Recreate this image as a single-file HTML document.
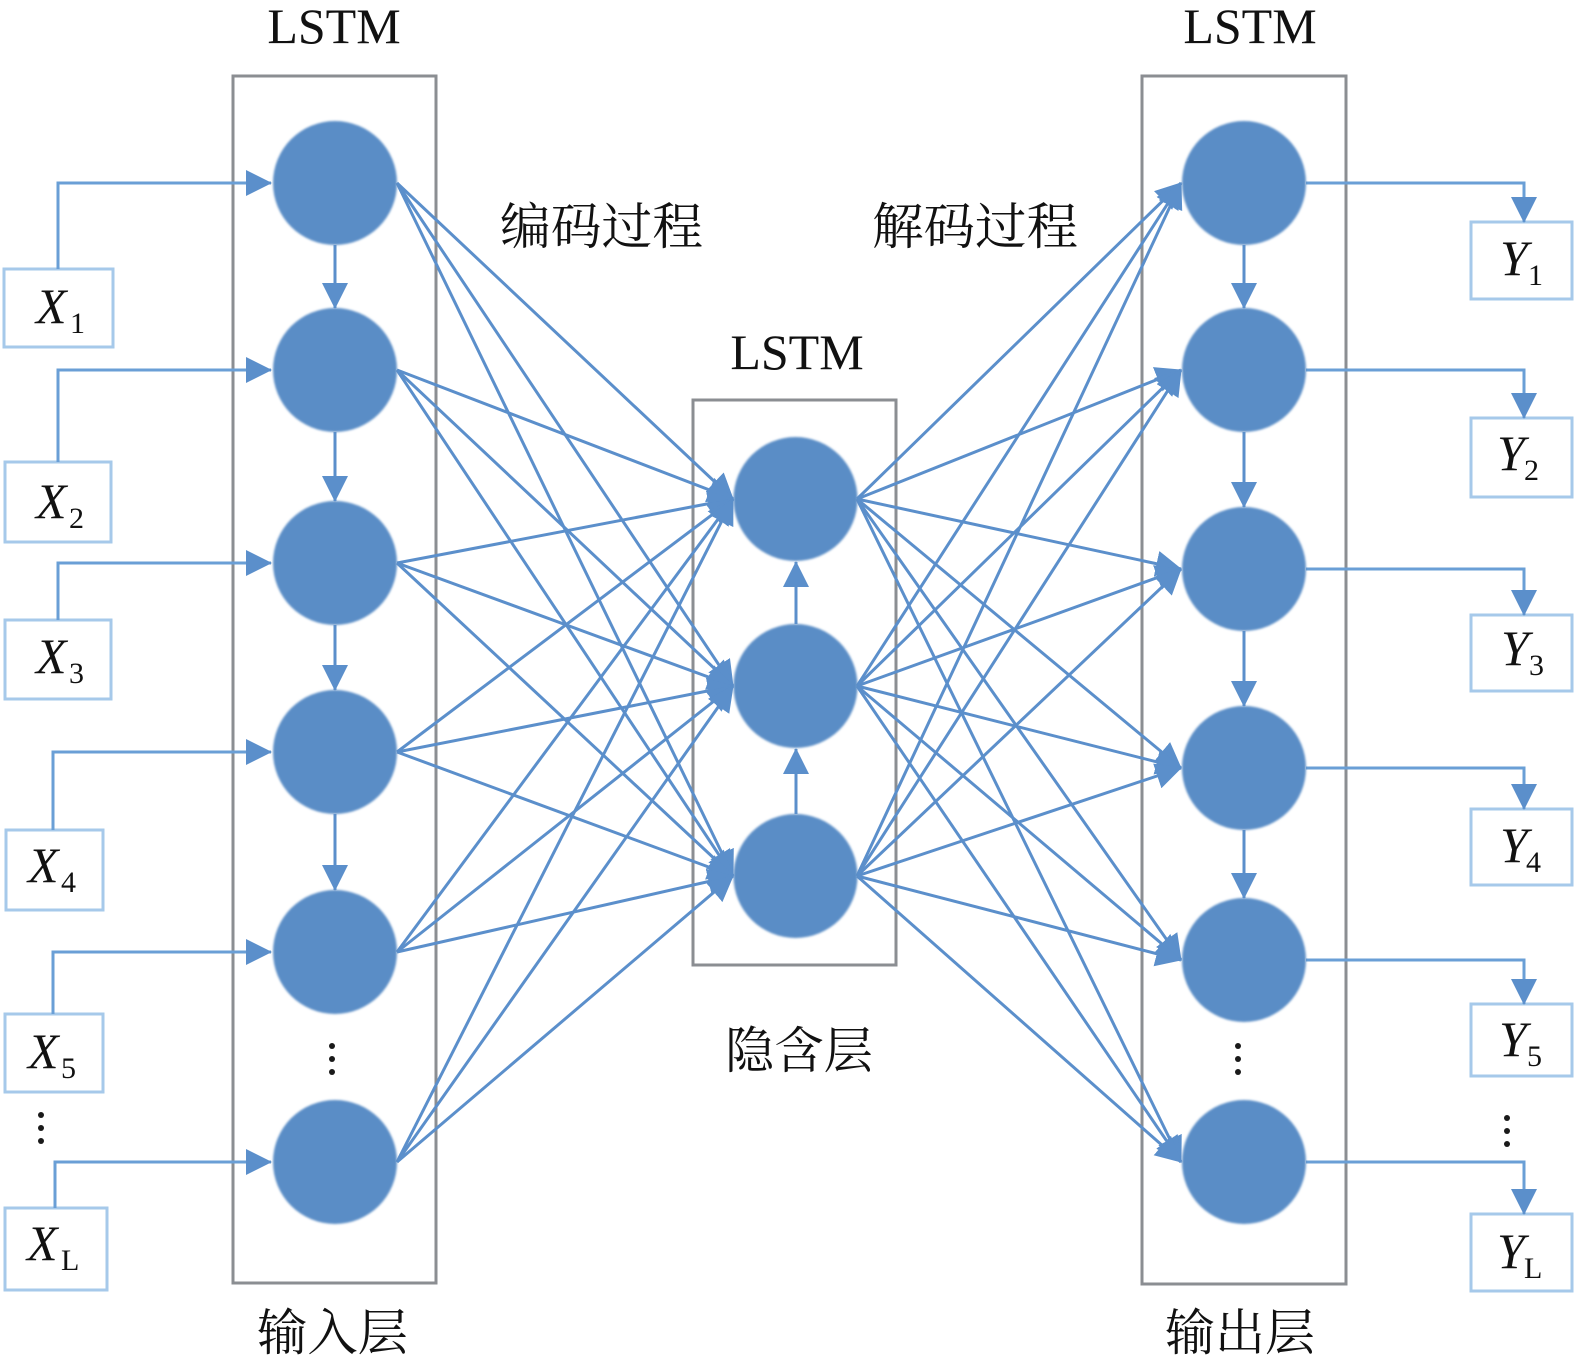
<!DOCTYPE html>
<html>
<head>
<meta charset="utf-8">
<style>
  html,body{margin:0;padding:0;background:#fff;}
  svg{display:block;}
  .lat{font-family:"Liberation Serif",serif;fill:#111;}
  .cjk{font-family:"Liberation Serif","Noto Serif CJK SC",serif;fill:#111;}
</style>
</head>
<body>
<svg width="1576" height="1366" viewBox="0 0 1576 1366" xmlns="http://www.w3.org/2000/svg">
  <defs>
    <marker id="ah" markerWidth="28" markerHeight="28" refX="25" refY="13" orient="auto" markerUnits="userSpaceOnUse">
      <path d="M0,0 L26,13 L0,26 z" fill="#5b8fcb"/>
    </marker>
    <filter id="soft" x="-10%" y="-10%" width="120%" height="120%">
      <feGaussianBlur stdDeviation="1"/>
    </filter>
  </defs>

  <!-- Titles -->
  <text class="lat" x="334" y="43" font-size="50" text-anchor="middle">LSTM</text>
  <text class="lat" x="1250" y="43" font-size="50" text-anchor="middle">LSTM</text>
  <text class="lat" x="797" y="369" font-size="50" text-anchor="middle">LSTM</text>

  <text class="cjk" x="500" y="244" font-size="50" textLength="203" lengthAdjust="spacingAndGlyphs">编码过程</text>
  <text class="cjk" x="872" y="244" font-size="50" textLength="206" lengthAdjust="spacingAndGlyphs">解码过程</text>
  <text class="cjk" x="725" y="1068" font-size="50" textLength="148" lengthAdjust="spacingAndGlyphs">隐含层</text>
  <text class="cjk" x="257" y="1350" font-size="50" textLength="151" lengthAdjust="spacingAndGlyphs">输入层</text>
  <text class="cjk" x="1165" y="1350" font-size="50" textLength="150" lengthAdjust="spacingAndGlyphs">输出层</text>

  <!-- Layer boxes -->
  <g fill="none" stroke="#8b8e92" stroke-width="3">
    <rect x="233" y="76" width="203" height="1207"/>
    <rect x="693" y="400" width="203" height="565"/>
    <rect x="1142" y="76" width="204" height="1208"/>
  </g>

  <!-- Input / output boxes -->
  <g fill="#fff" stroke="#a6c9ea" stroke-width="3">
    <rect x="4" y="269" width="109" height="78"/>
    <rect x="5" y="462" width="106" height="80"/>
    <rect x="5" y="620" width="106" height="79"/>
    <rect x="6" y="830" width="97" height="80"/>
    <rect x="5" y="1014" width="98" height="78"/>
    <rect x="5" y="1208" width="102" height="82"/>

    <rect x="1471" y="222" width="101" height="77"/>
    <rect x="1471" y="418" width="101" height="79"/>
    <rect x="1471" y="615" width="101" height="76"/>
    <rect x="1471" y="809" width="101" height="76"/>
    <rect x="1471" y="1004" width="101" height="72"/>
    <rect x="1471" y="1214" width="101" height="77"/>
  </g>

  <!-- Encoder connections -->
  <g stroke="#5b8fcb" stroke-width="3" marker-end="url(#ah)">
    <line x1="397" y1="183" x2="733" y2="499"/>
    <line x1="397" y1="183" x2="733" y2="686"/>
    <line x1="397" y1="183" x2="733" y2="876"/>
    <line x1="397" y1="370" x2="733" y2="499"/>
    <line x1="397" y1="370" x2="733" y2="686"/>
    <line x1="397" y1="370" x2="733" y2="876"/>
    <line x1="397" y1="563" x2="733" y2="499"/>
    <line x1="397" y1="563" x2="733" y2="686"/>
    <line x1="397" y1="563" x2="733" y2="876"/>
    <line x1="397" y1="752" x2="733" y2="499"/>
    <line x1="397" y1="752" x2="733" y2="686"/>
    <line x1="397" y1="752" x2="733" y2="876"/>
    <line x1="397" y1="952" x2="733" y2="499"/>
    <line x1="397" y1="952" x2="733" y2="686"/>
    <line x1="397" y1="952" x2="733" y2="876"/>
    <line x1="397" y1="1162" x2="733" y2="499"/>
    <line x1="397" y1="1162" x2="733" y2="686"/>
    <line x1="397" y1="1162" x2="733" y2="876"/>
  </g>

  <!-- Decoder connections -->
  <g stroke="#5b8fcb" stroke-width="3" marker-end="url(#ah)">
    <line x1="857" y1="499" x2="1181" y2="183"/>
    <line x1="857" y1="499" x2="1181" y2="370"/>
    <line x1="857" y1="499" x2="1181" y2="569"/>
    <line x1="857" y1="499" x2="1181" y2="768"/>
    <line x1="857" y1="499" x2="1181" y2="960"/>
    <line x1="857" y1="499" x2="1181" y2="1162"/>
    <line x1="857" y1="686" x2="1181" y2="183"/>
    <line x1="857" y1="686" x2="1181" y2="370"/>
    <line x1="857" y1="686" x2="1181" y2="569"/>
    <line x1="857" y1="686" x2="1181" y2="768"/>
    <line x1="857" y1="686" x2="1181" y2="960"/>
    <line x1="857" y1="686" x2="1181" y2="1162"/>
    <line x1="857" y1="876" x2="1181" y2="183"/>
    <line x1="857" y1="876" x2="1181" y2="370"/>
    <line x1="857" y1="876" x2="1181" y2="569"/>
    <line x1="857" y1="876" x2="1181" y2="768"/>
    <line x1="857" y1="876" x2="1181" y2="960"/>
    <line x1="857" y1="876" x2="1181" y2="1162"/>
  </g>

  <!-- Input connectors -->
  <g fill="none" stroke="#6a9fd6" stroke-width="3" marker-end="url(#ah)">
    <path d="M58,269 V183 H271"/>
    <path d="M58,462 V370 H271"/>
    <path d="M58,620 V563 H271"/>
    <path d="M53,830 V752 H271"/>
    <path d="M53,1014 V952 H271"/>
    <path d="M55,1208 V1162 H271"/>
  </g>

  <!-- Output connectors -->
  <g fill="none" stroke="#6a9fd6" stroke-width="3" marker-end="url(#ah)">
    <path d="M1306,183 H1524 V222"/>
    <path d="M1306,370 H1524 V418"/>
    <path d="M1306,569 H1524 V615"/>
    <path d="M1306,768 H1524 V809"/>
    <path d="M1306,960 H1524 V1004"/>
    <path d="M1306,1162 H1524 V1214"/>
  </g>

  <!-- Vertical arrows -->
  <g stroke="#5b8fcb" stroke-width="3" marker-end="url(#ah)">
    <line x1="335" y1="245" x2="335" y2="308"/>
    <line x1="335" y1="432" x2="335" y2="501"/>
    <line x1="335" y1="625" x2="335" y2="690"/>
    <line x1="335" y1="814" x2="335" y2="890"/>

    <line x1="1244" y1="245" x2="1244" y2="308"/>
    <line x1="1244" y1="432" x2="1244" y2="507"/>
    <line x1="1244" y1="631" x2="1244" y2="706"/>
    <line x1="1244" y1="830" x2="1244" y2="898"/>

    <line x1="796" y1="814" x2="796" y2="749"/>
    <line x1="796" y1="624" x2="796" y2="562"/>
  </g>

  <!-- Nodes -->
  <g fill="#5a8dc6">
    <g filter="url(#soft)">
      <circle cx="335" cy="183" r="62"/>
      <circle cx="335" cy="370" r="62"/>
      <circle cx="335" cy="563" r="62"/>
      <circle cx="335" cy="752" r="62"/>
      <circle cx="335" cy="952" r="62"/>
      <circle cx="335" cy="1162" r="62"/>

      <circle cx="795.5" cy="499" r="62"/>
      <circle cx="795.5" cy="686" r="62"/>
      <circle cx="795.5" cy="876" r="62"/>

      <circle cx="1244" cy="183" r="62"/>
      <circle cx="1244" cy="370" r="62"/>
      <circle cx="1244" cy="569" r="62"/>
      <circle cx="1244" cy="768" r="62"/>
      <circle cx="1244" cy="960" r="62"/>
      <circle cx="1244" cy="1162" r="62"/>
    </g>
  </g>

  <!-- Ellipsis dots -->
  <g fill="#1a1a1a">
    <circle cx="41" cy="1115" r="3"/><circle cx="41" cy="1128" r="3"/><circle cx="41" cy="1141" r="3"/>
    <circle cx="332" cy="1046" r="3"/><circle cx="332" cy="1059" r="3"/><circle cx="332" cy="1072" r="3"/>
    <circle cx="1238" cy="1046" r="3"/><circle cx="1238" cy="1059" r="3"/><circle cx="1238" cy="1072" r="3"/>
    <circle cx="1507" cy="1118" r="3"/><circle cx="1507" cy="1131" r="3"/><circle cx="1507" cy="1144" r="3"/>
  </g>

  <!-- X labels -->
  <g class="lat">
    <text x="36" y="323" font-size="50" font-style="italic">X</text>
    <text x="70" y="333" font-size="30">1</text>
    <text x="36" y="518" font-size="50" font-style="italic">X</text>
    <text x="69" y="528" font-size="30">2</text>
    <text x="36" y="673" font-size="50" font-style="italic">X</text>
    <text x="69" y="683" font-size="30">3</text>
    <text x="28" y="882" font-size="50" font-style="italic">X</text>
    <text x="61" y="892" font-size="30">4</text>
    <text x="28" y="1068" font-size="50" font-style="italic">X</text>
    <text x="61" y="1078" font-size="30">5</text>
    <text x="27" y="1260" font-size="50" font-style="italic">X</text>
    <text x="61" y="1270" font-size="30">L</text>
  </g>

  <!-- Y labels -->
  <g class="lat">
    <text x="1500" y="275" font-size="50" font-style="italic">Y</text>
    <text x="1528" y="285" font-size="30">1</text>
    <text x="1497" y="470" font-size="50" font-style="italic">Y</text>
    <text x="1524" y="480" font-size="30">2</text>
    <text x="1501" y="665" font-size="50" font-style="italic">Y</text>
    <text x="1529" y="675" font-size="30">3</text>
    <text x="1500" y="862" font-size="50" font-style="italic">Y</text>
    <text x="1526" y="872" font-size="30">4</text>
    <text x="1499" y="1056" font-size="50" font-style="italic">Y</text>
    <text x="1527" y="1066" font-size="30">5</text>
    <text x="1497" y="1268" font-size="50" font-style="italic">Y</text>
    <text x="1524" y="1278" font-size="30">L</text>
  </g>
</svg>
</body>
</html>
